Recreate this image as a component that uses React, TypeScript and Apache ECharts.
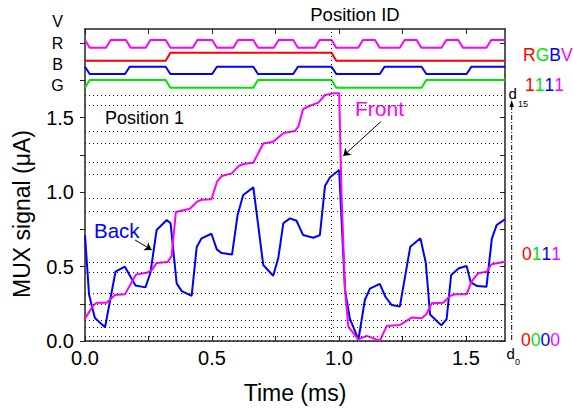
import React, { useEffect, useRef } from "react";
import * as echarts from "echarts";

const FONT = "'Liberation Sans', Arial, sans-serif";
const X_MAX = 1.654;
const Y_MAX = 2.094;

// x tick / label positions (ms)
const xTicks = [0, 0.25, 0.5, 0.75, 1.0, 1.25, 1.5];
const xLabels = [0, 0.5, 1.0, 1.5];
// y tick / label positions (uA)
const yTicks = [0, 0.25, 0.5, 0.75, 1.0, 1.25, 1.5, 1.75, 2.0];
const yLabels = [0, 0.5, 1.0, 1.5];

// Front signal (magenta)
const frontT = [0, 0.033, 0.046, 0.085, 0.118, 0.157, 0.201, 0.243, 0.263, 0.282, 0.325, 0.341, 0.358, 0.413, 0.441, 0.459, 0.498, 0.52, 0.539, 0.578, 0.606, 0.623, 0.663, 0.702, 0.741, 0.783, 0.827, 0.84, 0.859, 0.886, 0.919, 0.945, 0.978, 1.001, 1.01, 1.024, 1.037, 1.076, 1.109, 1.161, 1.188, 1.24, 1.286, 1.326, 1.345, 1.365, 1.411, 1.437, 1.457, 1.503, 1.522, 1.548, 1.581, 1.601, 1.654];
const frontV = [0.15, 0.24, 0.257, 0.257, 0.309, 0.313, 0.447, 0.458, 0.476, 0.524, 0.53, 0.57, 0.866, 0.888, 0.935, 0.948, 0.952, 1.069, 1.108, 1.125, 1.175, 1.188, 1.197, 1.326, 1.338, 1.396, 1.41, 1.438, 1.557, 1.579, 1.6, 1.651, 1.662, 1.662, 1.0, 0.342, 0.096, 0.011, 0.034, 0.002, 0.1, 0.107, 0.157, 0.152, 0.181, 0.253, 0.257, 0.302, 0.313, 0.313, 0.398, 0.454, 0.465, 0.515, 0.532];

// Back signal (blue)
const backT = [0, 0.016, 0.039, 0.079, 0.12, 0.157, 0.199, 0.238, 0.258, 0.282, 0.322, 0.337, 0.361, 0.381, 0.42, 0.44, 0.459, 0.498, 0.519, 0.538, 0.579, 0.601, 0.623, 0.663, 0.702, 0.741, 0.761, 0.781, 0.807, 0.833, 0.859, 0.899, 0.925, 0.945, 0.965, 1.001, 1.011, 1.024, 1.043, 1.077, 1.102, 1.122, 1.161, 1.183, 1.207, 1.24, 1.281, 1.321, 1.342, 1.359, 1.403, 1.424, 1.442, 1.472, 1.503, 1.519, 1.545, 1.581, 1.602, 1.621, 1.654];
const backV = [0.71, 0.31, 0.155, 0.092, 0.465, 0.499, 0.373, 0.36, 0.46, 0.745, 0.812, 0.79, 0.387, 0.335, 0.303, 0.631, 0.689, 0.72, 0.615, 0.59, 0.58, 0.846, 0.98, 1.031, 0.51, 0.438, 0.555, 0.79, 0.823, 0.807, 0.711, 0.693, 0.711, 1.04, 1.099, 1.148, 0.79, 0.342, 0.15, 0.01, 0.275, 0.352, 0.383, 0.297, 0.242, 0.232, 0.633, 0.689, 0.525, 0.178, 0.105, 0.146, 0.443, 0.488, 0.503, 0.393, 0.369, 0.364, 0.685, 0.778, 0.817];

// 16 position levels d0..d15
const levelValues = [0, 0.029, 0.091, 0.141, 0.248, 0.32, 0.461, 0.528, 0.868, 0.958, 1.119, 1.203, 1.327, 1.411, 1.579, 1.651];
const positionMarkT = 0.971;

// Position ID digital traces: transition times (ms), initial state, low/high levels
const vEdges = [0, 0.0827, 0.1614, 0.239, 0.3177, 0.424, 0.501, 0.584, 0.6626, 0.744, 0.82, 0.9055, 0.971, 1.076, 1.142, 1.24, 1.306, 1.404, 1.47, 1.581];
const rEdges = [0.3177, 0.971];
const bEdges = [0, 0.1575, 0.3177, 0.501, 0.6626, 0.82, 0.971, 1.161, 1.3256, 1.503];
const gEdges = [0, 0.3177, 0.6626, 0.971, 1.3256];
const vStart = 1, rStart = 0, bStart = 1, gStart = 0;
const vLevels = [1.968, 2.02];
const rLevels = [1.881, 1.935];
const bLevels = [1.792, 1.841];
const gLevels = [1.70, 1.752];
const RAMP = 0.0185;

// annotation arrows (data coords)
const backArrow = [[0.197, 0.678], [0.2626, 0.611]];
const frontArrow = [[1.165, 1.472], [1.017, 1.242]];

const MAGENTA = "#ff00ff";
const BLUE = "#0000ff";
const RED = "#ff0000";
const GREEN = "#00e600";

function digital(edges: number[], start: number, levels: number[]) {
  let s = start;
  const pts: number[][] = [[0, levels[s]]];
  for (const e of edges) {
    pts.push([e, levels[s]]);
    s = 1 - s;
    pts.push([e + RAMP, levels[s]]);
  }
  pts.push([X_MAX, levels[s]]);
  return pts;
}

const zip = (a: number[], b: number[]) => a.map((x, i) => [x, b[i]]);

export default function App() {
  const ref = useRef<HTMLDivElement>(null);
  useEffect(() => {
    document.body.style.margin = "0";
    const chart = echarts.init(ref.current!, null, { renderer: "svg" });
    const axisLine = { show: true, onZero: false, lineStyle: { color: "#222", width: 1.5 } };
    const tickStyle = { color: "#222", width: 1 };
    const lineSeries = (name: string, data: number[][], color: string) => ({
      name,
      type: "line",
      data,
      symbol: "none",
      lineStyle: { color, width: 2 },
      itemStyle: { color },
      silent: true,
      z: 3,
    });
    const txt = (text: string, x: number, y: number, size: number, color = "#000", align = "center", extra: any = {}) => ({
      type: "text",
      x,
      y,
      silent: true,
      style: { text, fill: color, font: `${size}px ${FONT}`, textAlign: align, textVerticalAlign: "middle", ...extra },
    });
    const RS = 17.5;
    const rich = {
      r: { fill: RED, color: RED, fontSize: RS, fontFamily: FONT },
      g: { fill: GREEN, color: GREEN, fontSize: RS, fontFamily: FONT },
      b: { fill: BLUE, color: BLUE, fontSize: RS, fontFamily: FONT },
      v: { fill: MAGENTA, color: MAGENTA, fontSize: RS, fontFamily: FONT },
    };
    const richTxt = (text: string, x: number, y: number) => ({
      type: "text",
      x,
      y,
      silent: true,
      style: { text, rich, font: `${RS}px ${FONT}`, textAlign: "left", textVerticalAlign: "middle" },
    });
    chart.setOption({
      animation: false,
      grid: { left: 85, right: 68, top: 29, bottom: 68, containLabel: false, outerBoundsMode: "none" },
      xAxis: [
        {
          type: "value", position: "bottom", min: 0, max: X_MAX,
          axisLine, splitLine: { show: false },
          axisTick: { inside: true, length: 5, customValues: xTicks, lineStyle: tickStyle },
          axisLabel: { customValues: xLabels, formatter: (v: number) => v.toFixed(1), fontSize: 20, color: "#000", margin: 7, fontFamily: FONT },
        },
        {
          type: "value", position: "top", min: 0, max: X_MAX,
          axisLine, splitLine: { show: false },
          axisTick: { inside: true, length: 5, customValues: xTicks, lineStyle: tickStyle },
          axisLabel: { show: false },
        },
      ],
      yAxis: [
        {
          type: "value", position: "left", min: 0, max: Y_MAX,
          axisLine, splitLine: { show: false },
          axisTick: { inside: false, length: 5, customValues: yTicks, lineStyle: tickStyle },
          axisLabel: { customValues: yLabels, formatter: (v: number) => v.toFixed(1), fontSize: 20, color: "#000", margin: 11, fontFamily: FONT },
        },
        {
          type: "value", position: "right", min: 0, max: Y_MAX,
          axisLine, splitLine: { show: false },
          axisTick: { inside: true, length: 5, customValues: yTicks, lineStyle: tickStyle },
          axisLabel: { show: false },
        },
      ],
      series: [
        {
          type: "line", data: [], silent: true, z: 1,
          markLine: {
            silent: true, symbol: ["none", "none"], label: { show: false },
            lineStyle: { color: "#111", width: 1, type: [1, 3] },
            emphasis: { disabled: true },
            data: [...levelValues.map((v) => ({ yAxis: v })), { xAxis: positionMarkT }],
          },
        },
        lineSeries("V", digital(vEdges, vStart, vLevels), MAGENTA),
        lineSeries("R", digital(rEdges, rStart, rLevels), RED),
        lineSeries("B", digital(bEdges, bStart, bLevels), BLUE),
        lineSeries("G", digital(gEdges, gStart, gLevels), GREEN),
        lineSeries("Back", zip(backT, backV), BLUE),
        lineSeries("Front", zip(frontT, frontV), MAGENTA),
        {
          type: "line", data: [], silent: true, z: 4,
          markLine: {
            silent: true, symbol: ["none", "arrow"], symbolSize: 7, label: { show: false },
            lineStyle: { color: "#000", width: 1, type: "solid" },
            emphasis: { disabled: true },
            data: [
              [{ coord: backArrow[0] }, { coord: backArrow[1] }],
              [{ coord: frontArrow[0] }, { coord: frontArrow[1] }],
            ],
          },
        },
      ],
      graphic: [
        txt("V", 57.5, 21, 16),
        txt("R", 57.5, 43, 16),
        txt("B", 57.5, 64, 16),
        txt("G", 57.5, 85, 16),
        txt("Position ID", 355, 14, 18.5),
        txt("Position 1", 105, 117.5, 18, "#000", "left"),
        txt("Time (ms)", 295, 393, 23),
        { ...txt("MUX signal (\u03bcA)", 22, 214, 23), rotation: Math.PI / 2 },
        txt("Back", 94, 230, 20.5, BLUE, "left"),
        txt("Front", 355, 108, 21, MAGENTA, "left"),
        richTxt("{r|R}{g|G}{b|B}{v|V}", 523, 55),
        richTxt("{r|1}{g|1}{b|1}{v|1}", 525, 85),
        richTxt("{r|0}{g|1}{b|1}{v|1}", 522, 253.5),
        richTxt("{r|0}{g|0}{b|0}{v|0}", 521, 339.5),
        txt("d", 508.5, 93.5, 15, "#000", "left"),
        txt("15", 518, 103.5, 9, "#000", "left"),
        txt("d", 506.5, 353, 15, "#000", "left"),
        txt("0", 515, 361.5, 9, "#000", "left"),
        {
          type: "line", silent: true,
          shape: { x1: 511.7, y1: 340, x2: 511.7, y2: 106 },
          style: { stroke: "#000", lineWidth: 1, lineDash: [5, 2, 1, 2] },
        },
        {
          type: "polygon", silent: true,
          shape: { points: [[511.7, 100], [509.5, 107], [513.9, 107]] },
          style: { fill: "#000" },
        },
      ],
    });
    return () => chart.dispose();
  }, []);
  return <div ref={ref} style={{ width: 573, height: 409 }} />;
}
